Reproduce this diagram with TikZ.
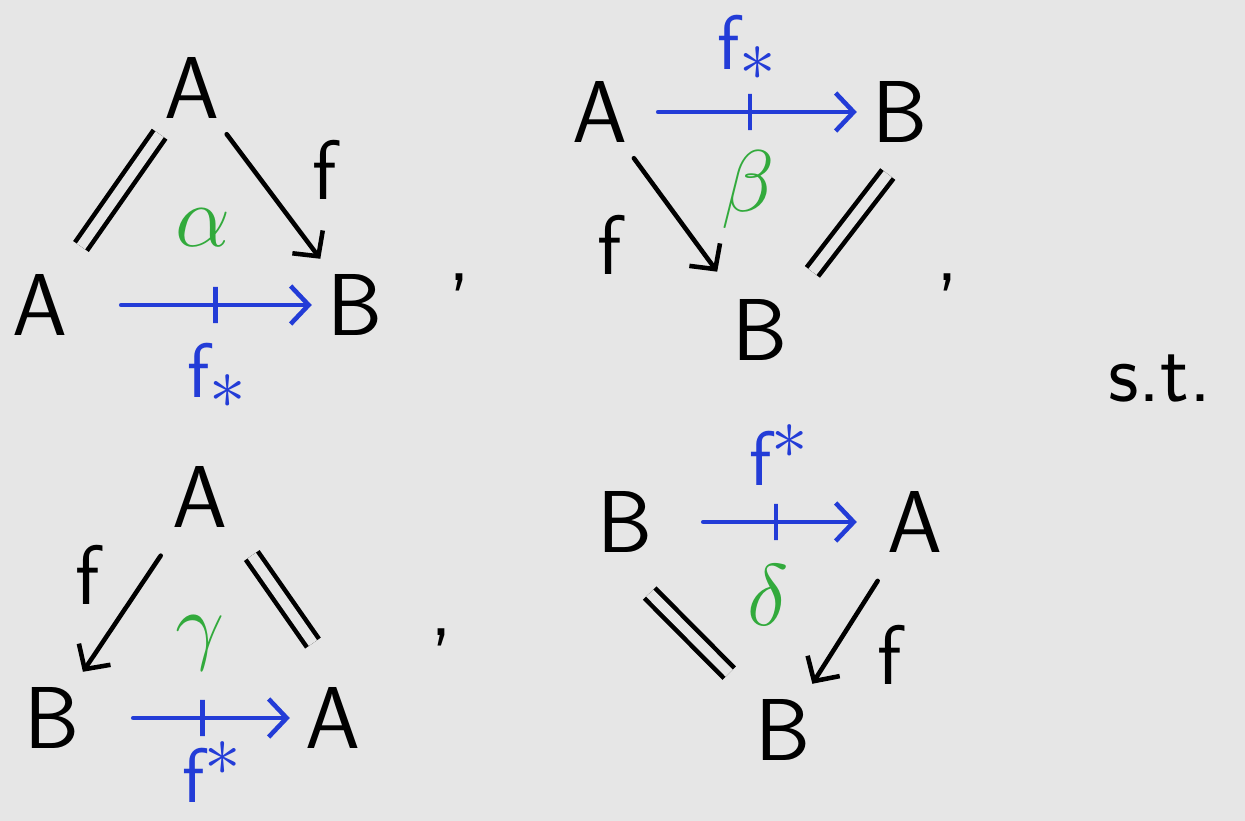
\documentclass[tikz,border=0pt]{standalone}
\usepackage{tikz}
\usetikzlibrary{arrows.meta,positioning}
\definecolor{BgGray}{RGB}{230,230,230}
\definecolor{MapBlue}{RGB}{35,60,215}
\definecolor{CellGreen}{RGB}{50,170,60}
\tikzset{
  obj/.style={inner sep=0.15cm, font=\fontsize{25}{30}\selectfont\sffamily},
  lbl/.style={inner sep=0pt, font=\fontsize{24}{28}\selectfont\sffamily},
  maplbl/.style={lbl, text=MapBlue, font=\fontsize{22}{26}\selectfont\sffamily},
  cell/.style={inner sep=0pt, text=CellGreen, font=\fontsize{24}{28}\selectfont},
  arr/.style={-{Straight Barb[length=1.8mm,width=3.8mm]}, line width=1.3pt, line cap=round},
  proarr/.style={arr, draw=MapBlue},
  barmark/.style={draw=MapBlue, line width=1.3pt, minimum width=0pt, minimum height=0.36cm, inner sep=0pt},
  eqline/.style={line width=1.3pt, double=BgGray, double distance=0.1cm, line cap=butt},
}
\begin{document}
\begin{tikzpicture}[x=0.01cm, y=-0.01cm]
    \useasboundingbox[fill=BgGray] (0,0) rectangle (1245,821);
    % first triangle
    \node[obj] (topA1) at (192,88) {A};
    \node[obj] (leftA1) at (40,305) {A};
    \node[obj] (rightB1) at (355,305) {B};
    \draw[eqline, shorten <=0.15cm] (leftA1) -- (topA1);
    \draw[arr] (topA1) -- (rightB1);
    \draw[proarr, shorten <=0.38cm] (leftA1) -- node[barmark, pos=0.58] (barA1) {} (rightB1);
    \node[lbl] (fone) at (325,170) {f};
    \node[maplbl] (fstarone) at (218,376) {f$_{\textstyle *}$};
    \node[cell] (alpha) at (203,228) {$\alpha$};
    \node[lbl] (commaone) at (460,282) {,};
    % second triangle
    \node[obj] (leftA2) at (600,112) {A};
    \node[obj] (rightB2) at (900,112) {B};
    \node[obj] (botB2) at (760,330) {B};
    \draw[proarr, shorten <=0.15cm] (leftA2) -- node[barmark] (barA2) {} (rightB2);
    \draw[arr, shorten >=0.15cm] (leftA2) -- (botB2);
    \draw[eqline, shorten <=0.2cm, shorten >=0.15cm] (rightB2.south) -- (botB2.north east);
    \node[lbl] (ftwo) at (610,245) {f};
    \node[maplbl] (fstartwo) at (748,48) {f$_{\textstyle *}$};
    \node[cell] (beta) at (748,190) {$\beta$};
    \node[lbl] (commatwo) at (948,282) {,};
    \node[lbl] (suchthat) at (1160,378) {s.t.};
    % third triangle
    \node[obj] (topA3) at (200,497) {A};
    \node[obj] (leftB3) at (52,718) {B};
    \node[obj] (rightA3) at (333,718) {A};
    \draw[arr, shorten <=0.15cm] (topA3) -- (leftB3);
    \draw[eqline, shorten <=0.15cm, shorten >=0.35cm] (topA3.south east) -- (rightA3.north);
    \draw[proarr, shorten <=0.38cm] (leftB3) -- node[barmark, pos=0.55] (barA3) {} (rightA3);
    \node[lbl] (fthree) at (88,575) {f};
    \node[maplbl] (fstarthree) at (213,772) {f$^{\textstyle *}$};
    \node[cell] (gamma) at (200,643) {$\gamma$};
    \node[lbl] (commathree) at (442,637) {,};
    % fourth triangle
    \node[obj] (leftB4) at (625,522) {B};
    \node[obj] (rightA4) at (915,522) {A};
    \node[obj] (botB4) at (783,730) {B};
    \draw[proarr, shorten <=0.35cm, shorten >=0.15cm] (leftB4) -- node[barmark, pos=0.53] (barA4) {} (rightA4);
    \draw[arr, shorten <=0.15cm] (rightA4) -- (botB4);
    \draw[eqline, shorten <=0.35cm, shorten >=0.15cm] (leftB4.south) -- (botB4.north west);
    \node[lbl] (ffour) at (890,655) {f};
    \node[maplbl] (fstarfour) at (780,455) {f$^{\textstyle *}$};
    \node[cell] (delta) at (768,595) {$\delta$};
\end{tikzpicture}
\end{document}
